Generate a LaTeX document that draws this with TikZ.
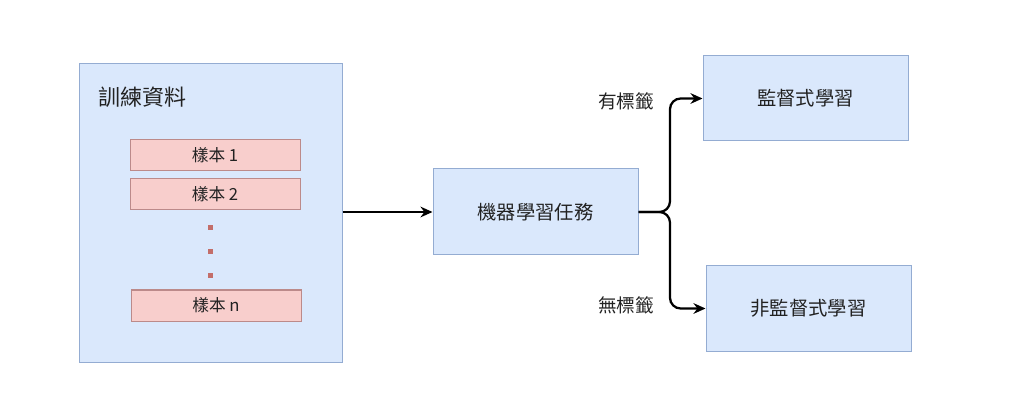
\documentclass[tikz,border=0pt]{standalone}
\usepackage{fontspec}
\setmainfont{Noto Sans CJK TC}
\usetikzlibrary{arrows.meta}
\definecolor{bluefill}{HTML}{DAE8FC}
\definecolor{bluedraw}{HTML}{94ACD2}
\definecolor{redfill}{HTML}{F8CECC}
\definecolor{reddraw}{HTML}{BC8A8A}
\definecolor{dotred}{HTML}{B85450}
\definecolor{textgray}{HTML}{222222}
\begin{document}
\begin{tikzpicture}[x=0.75pt,y=-0.75pt, text=textgray,
	bluebox/.style = {draw=bluedraw, fill=bluefill, line width=0.75pt},
	samplebox/.style = {draw=reddraw, fill=redfill, line width=0.75pt, minimum width=127.5pt, minimum height=23.25pt, font=\fontsize{12.5}{14}\selectfont},
	flow/.style = {line width=1.7pt, -{Stealth[length=9pt,width=8pt]}}]
						\useasboundingbox (0,0) rectangle (1024,413);
						
						% training data
						\node[bluebox, minimum width=197.25pt, minimum height=223.5pt] (data) at (210.5,213) {};
						\node[anchor=west, font=\fontsize{16.5}{18}\selectfont] (datatitle) at (94,97) {訓練資料};
						
						\node[samplebox] (s1) at (215,155.5) {樣本 1};
						\node[samplebox] (s2) at (215,194.5) {樣本 2};
						\node[samplebox] (sn) at (216,305.5) {樣本 n};
						
						\foreach \y in {228,252,276}
							\fill[dotred!85!white] (208,\y-2.5) rectangle (213,\y+2.5);
						
						% task
						\node[bluebox, minimum width=153.75pt, minimum height=64.5pt, font=\fontsize{14.5}{16}\selectfont] (task) at (535.5,212) {機器學習任務};
						
						\node[bluebox, minimum width=153.75pt, minimum height=63.75pt, font=\fontsize{14.5}{16}\selectfont] (sup) at (805.5,98.5) {監督式學習};
						\node[bluebox, minimum width=153.75pt, minimum height=63.75pt, font=\fontsize{14.5}{16}\selectfont] (unsup) at (808.5,308.5) {非監督式學習};
						
						\draw[flow] (data.east |- task.west) -- (task.west);
						
						\draw[flow, rounded corners=8pt] (task.east) -- (670,212) -- (670,98.5) -- (sup.west);
						\draw[flow, rounded corners=8pt] (task.east) -- (670,212) -- (670,308.5) -- (unsup.west);
						
						\node[anchor=east, font=\fontsize{14}{15}\selectfont] (haslabel) at (659,101) {有標籤};
						\node[anchor=east, font=\fontsize{14}{15}\selectfont] (nolabel) at (659,305) {無標籤};
					
					\end{tikzpicture}
\end{document}
